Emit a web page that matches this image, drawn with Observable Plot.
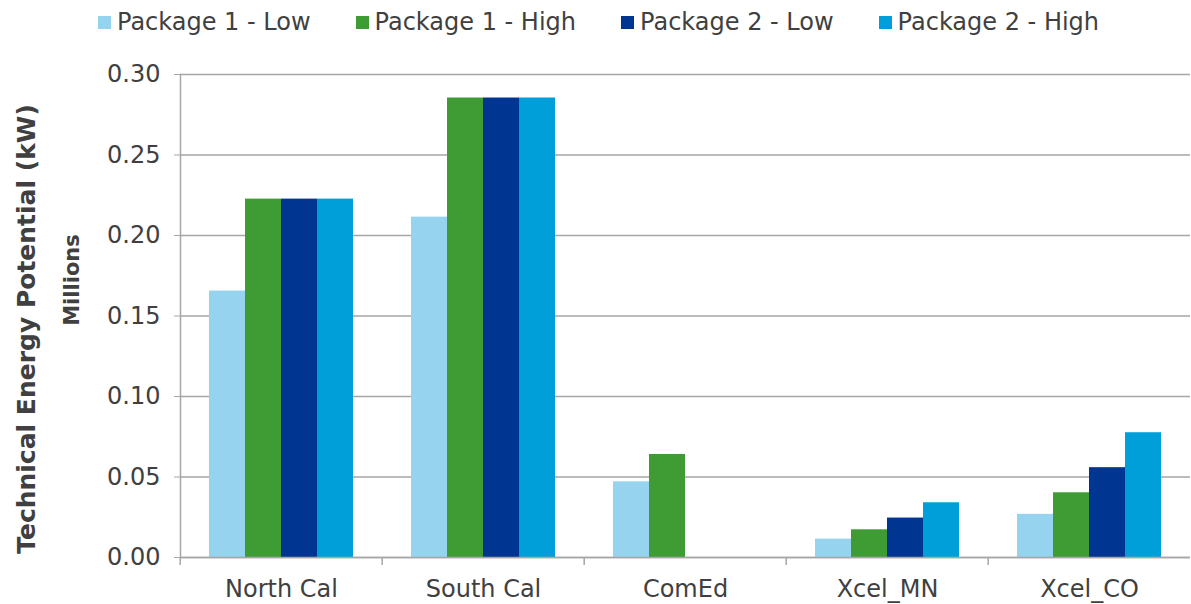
<!DOCTYPE html>
<html>
<head>
<meta charset="utf-8">
<script src="https://cdn.jsdelivr.net/npm/d3@7"></script>
<script src="https://cdn.jsdelivr.net/npm/@observablehq/plot@0.6"></script>
<style>
  html, body { margin: 0; padding: 0; background: #fff; }
  body { width: 1191px; height: 604px; position: relative; overflow: hidden; font-family: "DejaVu Sans", Verdana, sans-serif; color: #404040; }
  #legend { height: 44px; display: flex; align-items: center; padding-left: 98px; font-size: 24px; }
  .item { display: flex; align-items: center; margin-right: 45px; white-space: nowrap; }
  .sw { width: 13px; height: 13px; margin-right: 6px; }
  .ytitle { position: absolute; white-space: nowrap; font-weight: bold; transform: translate(-50%, -50%) rotate(-90deg); color: #404040; }
  #chart svg { display: block; }
</style>
</head>
<body>
<div id="legend"></div>
<div id="chart"></div>
<div class="ytitle" style="left:26px; top:329px; font-size:25px;">Technical Energy Potential (kW)</div>
<div class="ytitle" style="left:72px; top:280px; font-size:21px;">Millions</div>
<script>
const categories = ["North Cal", "South Cal", "ComEd", "Xcel_MN", "Xcel_CO"];
const seriesNames = ["Package 1 - Low", "Package 1 - High", "Package 2 - Low", "Package 2 - High"];
const package1Low  = [0.1655, 0.2114, 0.0470, 0.0114, 0.0268];
const package1High = [0.2226, 0.2854, 0.0640, 0.0172, 0.0402];
const package2Low  = [0.2226, 0.2854, 0,      0.0245, 0.0558];
const package2High = [0.2226, 0.2854, 0,      0.0340, 0.0775];
const yTicks = [0, 0.05, 0.10, 0.15, 0.20, 0.25, 0.30];
const colors = ["#95D3EF", "#3F9C35", "#003591", "#009FDA"];

const seriesValues = [package1Low, package1High, package2Low, package2High];
const data = [];
categories.forEach((c, i) => {
  seriesNames.forEach((s, j) => data.push({category: c, series: s, value: seriesValues[j][i]}));
});

// legend
const legend = document.getElementById("legend");
seriesNames.forEach((s, j) => {
  const it = document.createElement("div");
  it.className = "item";
  const sw = document.createElement("div");
  sw.className = "sw";
  sw.style.background = colors[j];
  const tx = document.createElement("span");
  tx.textContent = s;
  it.appendChild(sw); it.appendChild(tx);
  legend.appendChild(it);
});

const W = 1191, mL = 178, mR = 0;
const band = (W - mL - mR) / categories.length;
const grey = "#A6A6A6";

const chart = Plot.plot({
  width: W,
  height: 560,
  marginTop: 30,
  marginBottom: 47,
  marginLeft: mL,
  marginRight: mR,
  style: {fontFamily: "'DejaVu Sans', Verdana, sans-serif", fontSize: "24px", color: "#404040", background: "#fff"},
  fx: {domain: categories, padding: 0, label: null},
  x: {domain: seriesNames, paddingInner: 0, paddingOuter: 0.755, axis: null},
  y: {domain: [0, 0.3], label: null},
  color: {domain: seriesNames, range: colors},
  marks: [
    Plot.gridY(yTicks, {stroke: grey, strokeOpacity: 1, strokeWidth: 1.5}),
    Plot.barY(data, {fx: "category", x: "series", y: "value", fill: "series"}),
    Plot.ruleY([0], {stroke: grey, strokeWidth: 1.5}),
    Plot.frame({anchor: "left", facetAnchor: "left", stroke: grey, strokeWidth: 1.5}),
    Plot.axisY(yTicks, {tickSize: 6, tickPadding: 14, tickFormat: d3.format(".2f"), stroke: grey, fill: "#404040", fontSize: 24, label: null}),
    Plot.axisFx({anchor: "bottom", tickSize: 0, tickPadding: 22, fontSize: 24, fill: "#404040", label: null}),
    Plot.axisFx({anchor: "bottom", tickSize: 8, text: null, dx: -band / 2, stroke: grey, strokeWidth: 1.5, label: null})
  ]
});
document.getElementById("chart").appendChild(chart);
</script>
</body>
</html>
